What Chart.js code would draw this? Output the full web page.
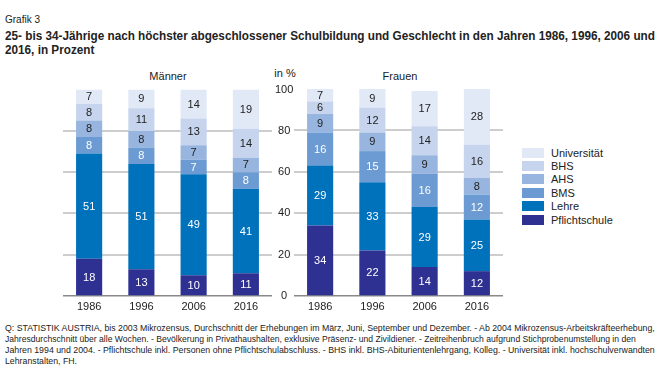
<!DOCTYPE html>
<html>
<head>
<meta charset="utf-8">
<script src="https://cdn.jsdelivr.net/npm/chart.js@4.4.1/dist/chart.umd.min.js"></script>
<style>
    body { margin: 0; background: #fff; font-family: "Liberation Sans", Arial, sans-serif; color: #222; }
    #wrap { position: relative; width: 660px; height: 371px; overflow: hidden; }
    .t { position: absolute; white-space: nowrap; transform-origin: left center; line-height: 1; }
    .c { position: absolute; }
    #legend { position: absolute; left: 522px; top: 146px; }
    .item { height: 13.4px; display: flex; align-items: center; font-size: 11px; }
    .box { width: 22px; height: 10px; margin-right: 7px; }
</style>
</head>
<body>
<div id="wrap">
    <div class="t" style="left:5px;top:15px;font-size:10px;">Grafik 3</div>
    <div class="t fit" data-w="650" id="title1" style="left:5px;top:30px;font-size:12.5px;font-weight:bold;">25- bis 34-Jährige nach höchster abgeschlossener Schulbildung und Geschlecht in den Jahren 1986, 1996, 2006 und</div>
    <div class="t" data-same="title1" style="left:5px;top:44px;font-size:12.5px;font-weight:bold;">2016, in Prozent</div>

    <div class="t" style="left:168px;top:71px;font-size:11px;transform:translateX(-50%);">Männer</div>
    <div class="t" style="left:400px;top:71px;font-size:11px;transform:translateX(-50%);">Frauen</div>
    <div class="t" style="left:285px;top:68px;font-size:11px;transform:translateX(-50%);">in %</div>

    <div class="c" style="left:0;top:80px;"><canvas id="chartM" width="300" height="235"></canvas></div>
    <div class="c" style="left:294px;top:80px;"><canvas id="chartF" width="209" height="235"></canvas></div>

    <div id="legend"></div>

    <div class="t fit" data-w="650" id="q1" style="left:5px;top:324px;font-size:8.7px;">Q: STATISTIK AUSTRIA, bis 2003 Mikrozensus, Durchschnitt der Erhebungen im März, Juni, September und Dezember. - Ab 2004 Mikrozensus-Arbeitskräfteerhebung,</div>
    <div class="t fit" data-w="631" style="left:5px;top:335px;font-size:8.7px;">Jahresdurchschnitt über alle Wochen. - Bevölkerung in Privathaushalten, exklusive Präsenz- und Zivildiener. - Zeitreihenbruch aufgrund Stichprobenumstellung in den</div>
    <div class="t fit" data-w="650" style="left:5px;top:346px;font-size:8.7px;">Jahren 1994 und 2004. - Pflichtschule inkl. Personen ohne Pflichtschulabschluss. - BHS inkl. BHS-Abiturientenlehrgang, Kolleg. - Universität inkl. hochschulverwandten</div>
    <div class="t" data-same="q1" style="left:5px;top:357px;font-size:8.7px;">Lehranstalten, FH.</div>
</div>

<script>
const jahre = ["1986", "1996", "2006", "2016"];
const stufen = ["Pflichtschule", "Lehre", "BMS", "AHS", "BHS", "Universität"];

// Männer, je Bildungsstufe über die Jahre
const mPflicht = [18, 13, 10, 11];
const mLehre = [51, 51, 49, 41];
const mBMS = [8, 8, 7, 8];
const mAHS = [8, 8, 7, 7];
const mBHS = [8, 11, 13, 14];
const mUni = [7, 9, 14, 19];

// Frauen
const fPflicht = [34, 22, 14, 12];
const fLehre = [29, 33, 29, 25];
const fBMS = [16, 15, 16, 12];
const fAHS = [9, 9, 9, 8];
const fBHS = [6, 12, 14, 16];
const fUni = [7, 9, 17, 28];

const yTicks = [0, 20, 40, 60, 80, 100];

const farben = ["#2e3192", "#0071bb", "#6b9bd2", "#98b5df", "#c6d4ee", "#e1e8f6"];
const textFarben = ["#fff", "#fff", "#fff", "#222", "#222", "#222"];

const FONT = "Liberation Sans";

function makeDatasets(reihen) {
    return reihen.map((werte, i) => ({
        label: stufen[i],
        data: werte,
        backgroundColor: farben[i],
        borderWidth: 0,
        categoryPercentage: 1,
        barPercentage: 0.5
    }));
}

// Zahlen mittig in jedes Segment
const segmentLabels = {
    id: "segmentLabels",
    afterDatasetsDraw(chart) {
        const ctx = chart.ctx;
        ctx.save();
        ctx.font = "11px '" + FONT + "'";
        ctx.textAlign = "center";
        ctx.textBaseline = "middle";
        chart.data.datasets.forEach((ds, i) => {
            chart.getDatasetMeta(i).data.forEach((bar, j) => {
                const top = Math.max(bar.y, chart.chartArea.top);
                ctx.fillStyle = textFarben[i];
                ctx.fillText(ds.data[j], bar.x, (top + bar.base) / 2 + 0.5);
            });
        });
        ctx.restore();
    }
};

function gridColor(c) {
    if (c.tick.value === 0) return "#8a8a8a";
    if (c.tick.value === 100) return "rgba(0,0,0,0)";
    return "#cdcdcd";
}
function gridWidth(c) {
    return c.tick.value === 0 ? 1.5 : 2;
}

function makeChart(id, reihen, zeigeTicks) {
    return new Chart(document.getElementById(id), {
        type: "bar",
        data: { labels: jahre, datasets: makeDatasets(reihen) },
        plugins: [segmentLabels],
        options: {
            responsive: false,
            devicePixelRatio: 1,
            animation: false,
            layout: { padding: { left: zeigeTicks ? 63 : 0, top: 9, right: 0, bottom: 0 } },
            plugins: { legend: { display: false }, tooltip: { enabled: false } },
            scales: {
                x: {
                    stacked: true,
                    grid: { display: false, drawTicks: false },
                    border: { display: false },
                    ticks: { color: "#222", font: { family: FONT, size: 11 }, padding: 4 },
                    afterFit: s => { s.height = 19; }
                },
                y: {
                    stacked: true,
                    position: zeigeTicks ? "right" : "left",
                    min: 0,
                    max: 100,
                    afterBuildTicks: s => { s.ticks = yTicks.map(v => ({ value: v })); },
                    grid: { color: gridColor, lineWidth: gridWidth, drawTicks: false },
                    border: { display: false },
                    ticks: {
                        display: zeigeTicks,
                        crossAlign: "center",
                        padding: 3,
                        color: "#222",
                        font: { family: FONT, size: 11 }
                    },
                    afterFit: s => { s.width = zeigeTicks ? 28 : 0; }
                }
            }
        }
    });
}

makeChart("chartM", [mPflicht, mLehre, mBMS, mAHS, mBHS, mUni], true);
makeChart("chartF", [fPflicht, fLehre, fBMS, fAHS, fBHS, fUni], false);

// Legende, oberste Stufe zuerst
const legend = document.getElementById("legend");
for (let i = stufen.length - 1; i >= 0; i--) {
    const row = document.createElement("div");
    row.className = "item";
    row.innerHTML = `<span class="box" style="background:${farben[i]}"></span>${stufen[i]}`;
    legend.appendChild(row);
}

// Textzeilen auf die Breite im Original bringen
const scales = {};
document.querySelectorAll(".fit").forEach(el => {
    const s = parseFloat(el.dataset.w) / el.offsetWidth;
    el.style.transform = `scaleX(${s})`;
    if (el.id) scales[el.id] = s;
});
document.querySelectorAll("[data-same]").forEach(el => {
    el.style.transform = `scaleX(${scales[el.dataset.same]})`;
});
</script>
</body>
</html>
